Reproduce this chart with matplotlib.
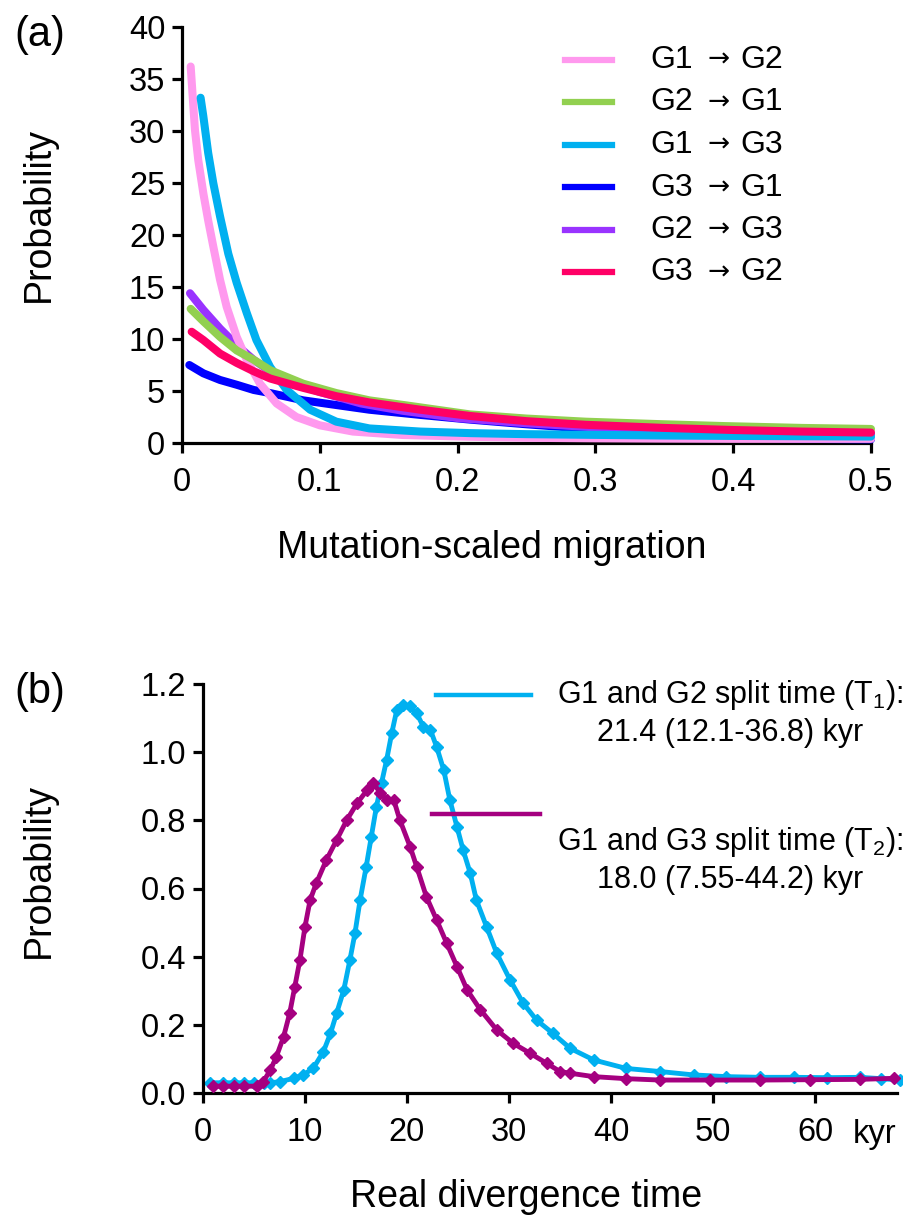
import matplotlib
matplotlib.use("Agg")
import matplotlib.pyplot as plt

plt.rcParams['font.family'] = ['Liberation Sans', 'DejaVu Sans']
plt.rcParams['mathtext.default'] = 'regular'

# ---------------- Panel (a) data ----------------
series_from = ['G1', 'G2', 'G1', 'G3', 'G2', 'G3']
series_to = ['G2', 'G1', 'G3', 'G1', 'G3', 'G2']
series_colors = ['#FF99EE', '#92D050', '#00B0F0', '#0000FF', '#9933FF', '#FF0066']

g1g2_x = [0.0063, 0.0094, 0.0118, 0.0155, 0.019, 0.0227, 0.0276, 0.0324, 0.0397, 0.047, 0.0566,
          0.0687, 0.083, 0.100, 0.124, 0.160, 0.209, 0.25, 0.3, 0.35, 0.4, 0.45, 0.5]
g1g2_y = [36.2, 30.1, 27.2, 24.0, 21.4, 18.9, 15.7, 13.1, 10.2, 8.0, 5.7,
          3.8, 2.5, 1.7, 1.1, 0.77, 0.6, 0.5, 0.45, 0.42, 0.4, 0.4, 0.4]

g2g1_x = [0.0063, 0.0155, 0.0276, 0.0397, 0.052, 0.064, 0.088, 0.112, 0.136, 0.161, 0.185,
          0.209, 0.25, 0.293, 0.35, 0.393, 0.45, 0.5]
g2g1_y = [12.9, 11.7, 10.2, 8.9, 8.0, 7.0, 5.7, 4.8, 4.1, 3.65, 3.2,
          2.75, 2.35, 2.05, 1.8, 1.63, 1.45, 1.35]

g1g3_x = [0.0135, 0.0155, 0.019, 0.0227, 0.0276, 0.0336, 0.0397, 0.047, 0.054, 0.064, 0.076,
          0.093, 0.112, 0.136, 0.173, 0.209, 0.25, 0.3, 0.35, 0.4, 0.45, 0.5]
g1g3_y = [33.2, 31.4, 27.9, 25.0, 21.8, 18.2, 15.4, 12.5, 9.9, 7.3, 5.1,
          3.2, 2.05, 1.4, 1.1, 0.95, 0.85, 0.78, 0.72, 0.68, 0.65, 0.62]

g3g1_x = [0.0053, 0.0155, 0.0276, 0.0397, 0.052, 0.064, 0.076, 0.088, 0.112, 0.136, 0.173,
          0.209, 0.25, 0.3, 0.35, 0.4, 0.45, 0.5]
g3g1_y = [7.5, 6.7, 6.06, 5.6, 5.1, 4.8, 4.45, 4.1, 3.65, 3.2, 2.7,
          2.25, 1.8, 1.3, 0.9, 0.55, 0.4, 0.35]

g2g3_x = [0.0058, 0.0155, 0.0276, 0.0397, 0.052, 0.064, 0.08, 0.1, 0.13, 0.16, 0.2,
          0.25, 0.3, 0.35, 0.4, 0.45, 0.5]
g2g3_y = [14.4, 12.8, 11.0, 9.4, 8.0, 6.9, 5.8, 4.9, 3.8, 3.1, 2.4,
          1.9, 1.5, 1.2, 1.05, 0.95, 0.85]

g3g2_x = [0.007, 0.0155, 0.0276, 0.0397, 0.052, 0.064, 0.088, 0.112, 0.136, 0.173, 0.209,
          0.25, 0.293, 0.35, 0.4, 0.45, 0.5]
g3g2_y = [10.7, 9.9, 8.6, 7.7, 6.9, 6.2, 5.3, 4.5, 3.9, 3.2, 2.6,
          2.1, 1.75, 1.45, 1.25, 1.1, 1.0]

a_xticks = [0, 0.1, 0.2, 0.3, 0.4, 0.5]
a_xticklabels = ['0', '0.1', '0.2', '0.3', '0.4', '0.5']
a_yticks = [0, 5, 10, 15, 20, 25, 30, 35, 40]

# ---------------- Panel (b) data ----------------
t1_x = [0.7, 2, 3, 4, 5, 6, 6.6, 7.5, 8.9, 9.8, 10.8, 11.8, 12.5, 13.1, 13.8, 14.4, 14.9, 15.4,
        16.0, 16.5, 17.0, 17.5, 18.0, 18.5, 19.0, 19.6, 20.3, 20.95, 21.6, 22.3, 22.9, 23.6,
        24.2, 24.9, 25.5, 26.2, 26.8, 27.8, 28.8, 30.1, 31.4, 32.7, 34.3, 36.0, 38.3, 41.5,
        44.8, 48.1, 51.3, 54.6, 57.9, 61.2, 64.4, 66.5, 68.3]
t1_y = [0.03, 0.03, 0.03, 0.03, 0.03, 0.03, 0.03, 0.033, 0.043, 0.053, 0.072, 0.121, 0.175,
        0.234, 0.302, 0.39, 0.469, 0.566, 0.664, 0.752, 0.84, 0.909, 0.977, 1.055, 1.124,
        1.138, 1.134, 1.114, 1.075, 1.065, 1.016, 0.948, 0.86, 0.781, 0.713, 0.645, 0.566,
        0.488, 0.41, 0.332, 0.263, 0.214, 0.175, 0.131, 0.097, 0.072, 0.063, 0.053, 0.048,
        0.046, 0.046, 0.045, 0.046, 0.042, 0.038]

t2_x = [1.0, 2, 3, 4, 5.3, 5.9, 6.6, 7.2, 7.9, 8.5, 9.0, 9.5, 10.0, 10.5, 11.1, 12.1, 13.1,
        14.1, 15.1, 16.1, 16.7, 17.4, 18.0, 18.7, 19.3, 20.3, 20.95, 21.9, 22.9, 23.9, 24.9,
        25.9, 27.2, 28.8, 30.4, 32.1, 33.7, 35.0, 36.0, 38.3, 41.5, 44.8, 49.7, 54.6, 59.5,
        64.4, 67.7]
t2_y = [0.02, 0.02, 0.02, 0.02, 0.02, 0.033, 0.067, 0.107, 0.165, 0.234, 0.312, 0.39, 0.488,
        0.566, 0.615, 0.684, 0.742, 0.801, 0.85, 0.889, 0.909, 0.88, 0.86, 0.86, 0.801, 0.723,
        0.664, 0.576, 0.508, 0.439, 0.371, 0.302, 0.244, 0.185, 0.146, 0.116, 0.087, 0.063,
        0.058, 0.048, 0.042, 0.038, 0.038, 0.038, 0.039, 0.04, 0.043]

b_xticks = [0, 10, 20, 30, 40, 50, 60]
b_yticks = [0.0, 0.2, 0.4, 0.6, 0.8, 1.0, 1.2]
b_yticklabels = ['0.0', '0.2', '0.4', '0.6', '0.8', '1.0', '1.2']
t1_text = 'G1 and G2 split time (T$_{1}$):\n21.4 (12.1-36.8) kyr'
t2_text = 'G1 and G3 split time (T$_{2}$):\n18.0 (7.55-44.2) kyr'
t1_color = '#00B0F0'
t2_color = '#A50080'

TICK_FS = 23.5
LABEL_FS = 27

fig = plt.figure(figsize=(9.04, 12.2), dpi=100)


def style_axes(ax):
    for s in ['top', 'right']:
        ax.spines[s].set_visible(False)
    for s in ['left', 'bottom']:
        ax.spines[s].set_linewidth(2.3)
    ax.tick_params(direction='out', length=7, width=2.3, labelsize=TICK_FS)
    ax.tick_params(axis='x', pad=10)
    ax.tick_params(axis='y', pad=5)


# ---------------- Panel (a) ----------------
axa = fig.add_axes([182 / 904, 1 - 443 / 1220, 689 / 904, 416 / 1220])
style_axes(axa)
xs = [g1g2_x, g2g1_x, g1g3_x, g3g1_x, g2g3_x, g3g2_x]
ys = [g1g2_y, g2g1_y, g1g3_y, g3g1_y, g2g3_y, g3g2_y]
order = [3, 4, 0, 2, 1, 5]
for i in order:
    axa.plot(xs[i], ys[i], color=series_colors[i], lw=5.8, solid_capstyle='round',
             solid_joinstyle='round', clip_on=False, zorder=3 + order.index(i),
             label=f'{series_from[i]} \u2192 {series_to[i]}')
axa.set_xlim(0, 0.5)
axa.set_ylim(0, 40)
axa.set_xticks(a_xticks)
axa.set_xticklabels(a_xticklabels)
axa.set_yticks(a_yticks)

# legend (manual)
for i, (src, dst, col) in enumerate(zip(series_from, series_to, series_colors)):
    ypx = 60 + 42.5 * i
    yax = (443 - ypx) / 416
    axa.plot([(565 - 182) / 689, (612 - 182) / 689], [yax, yax], color=col, lw=4.5,
             transform=axa.transAxes, clip_on=False)
    axa.text((650 - 182) / 689, yax, src, transform=axa.transAxes, fontsize=23,
             ha='left', va='center')
    axa.text((719 - 182) / 689, yax, '\u2192', transform=axa.transAxes, fontsize=19,
             ha='center', va='center', family='DejaVu Sans')
    axa.text((740 - 182) / 689, yax, dst, transform=axa.transAxes, fontsize=23,
             ha='left', va='center')

fig.text(492 / 904, 1 - 548 / 1220, 'Mutation-scaled migration', fontsize=LABEL_FS,
         ha='center', va='center')
fig.text(39 / 904, 1 - 214 / 1220, 'Probability', fontsize=LABEL_FS, rotation=90,
         ha='center', va='center')
fig.text(40 / 904, 1 - 35 / 1220, '(a)', fontsize=30, ha='center', va='center')

# ---------------- Panel (b) ----------------
axb = fig.add_axes([203 / 904, 1 - 1093 / 1220, 693.6 / 904, 409 / 1220])
style_axes(axb)
axb.plot(t2_x, t2_y, color=t2_color, lw=3.5, marker='D', ms=6, clip_on=False, zorder=3)
axb.plot(t1_x, t1_y, color=t1_color, lw=3.5, marker='D', ms=6, clip_on=False, zorder=2)
axb.set_xlim(0, 68)
axb.set_ylim(0, 1.2)
axb.set_xticks(b_xticks)
axb.set_yticks(b_yticks)
axb.set_yticklabels(b_yticklabels)

axb.plot([22.8, 32.2], [1.168, 1.168], color=t1_color, lw=3.2, clip_on=False)
axb.plot([22.5, 33.0], [0.818, 0.818], color=t2_color, lw=3.2, clip_on=False)
fig.text(730 / 904, 1 - 713 / 1220, t1_text, fontsize=22, ha='center', va='center',
         linespacing=1.3)
fig.text(730 / 904, 1 - 860 / 1220, t2_text, fontsize=22, ha='center', va='center',
         linespacing=1.3)
fig.text(875 / 904, 1 - 1135 / 1220, 'kyr', fontsize=TICK_FS, ha='center', va='center')

fig.text(526 / 904, 1 - 1197 / 1220, 'Real divergence time', fontsize=LABEL_FS,
         ha='center', va='center')
fig.text(39 / 904, 1 - 870 / 1220, 'Probability', fontsize=LABEL_FS, rotation=90,
         ha='center', va='center')
fig.text(40 / 904, 1 - 692 / 1220, '(b)', fontsize=30, ha='center', va='center')

fig.savefig('out.png', dpi=100)
